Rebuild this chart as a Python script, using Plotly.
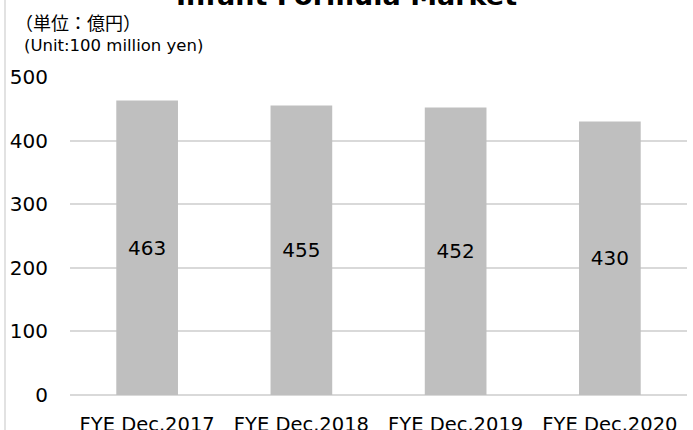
import plotly.graph_objects as go

categories = ["FYE Dec.2017", "FYE Dec.2018", "FYE Dec.2019", "FYE Dec.2020"]
values = [463, 455, 452, 430]
y_ticks = [0, 100, 200, 300, 400, 500]

W, H = 693, 430
ML, MR, MT, MB = 70, 6, 77, 35
pw = W - ML - MR
ph = H - MT - MB

fig = go.Figure()
fig.add_trace(go.Bar(
    x=categories, y=values,
    marker=dict(color="#bfbfbf", line=dict(width=0)),
    text=[str(v) for v in values],
    textposition="inside", insidetextanchor="middle",
    textfont=dict(size=20, color="#000000", family="DejaVu Sans"),
    width=0.4,
))

fig.update_layout(
    width=W, height=H,
    margin=dict(l=ML, r=MR, t=MT, b=MB, autoexpand=False),
    paper_bgcolor="white", plot_bgcolor="white",
    font=dict(family="DejaVu Sans", color="#000000"),
    showlegend=False,
    xaxis=dict(showgrid=False, showline=False, ticks="", automargin=False,
               tickfont=dict(size=19.5, color="#000000"), range=[-0.5, 3.5],
               ticklabelstandoff=15),
    yaxis=dict(range=[0, 500], tickvals=y_ticks, showgrid=True, automargin=False,
               gridcolor="#d9d9d9", gridwidth=1.5, zeroline=True,
               zerolinecolor="#d9d9d9", zerolinewidth=1.5,
               tickfont=dict(size=20, color="#000000"), ticks="",
               ticklabelstandoff=21),
)

def px(x):
    return (x - ML) / pw

def py(y):
    return 1 - (y - MT) / ph

fig.add_annotation(text="<b>Infant Formula Market</b>", xref="paper", yref="paper",
                   x=px(346), y=py(-5), xanchor="center", yanchor="middle",
                   showarrow=False, font=dict(size=27, color="#000000"))
fig.add_annotation(text="（単位：億円）", xref="paper", yref="paper",
                   x=px(13), y=py(22), xanchor="left", yanchor="middle",
                   showarrow=False, font=dict(size=18, color="#000000", family="Noto Sans CJK JP"))
fig.add_annotation(text="(Unit:100 million yen)", xref="paper", yref="paper",
                   x=px(22), y=py(45), xanchor="left", yanchor="middle",
                   showarrow=False, font=dict(size=16.5, color="#000000"))
fig.add_shape(type="line", xref="paper", yref="paper",
              x0=px(5), x1=px(5), y0=py(0), y1=py(H),
              line=dict(color="#d9d9d9", width=1.5))

fig.write_html("out.html", config={"displayModeBar": False},
               post_script="document.body.style.margin='0';document.body.style.overflow='hidden';")
